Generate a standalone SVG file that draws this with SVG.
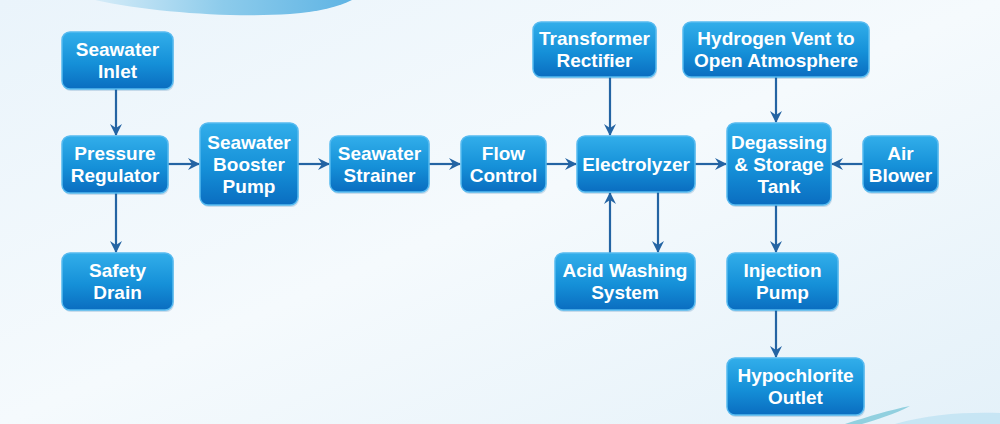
<svg xmlns="http://www.w3.org/2000/svg" width="1000" height="424" viewBox="0 0 1000 424">
<defs>
<linearGradient id="bg" x1="0" y1="0" x2="1" y2="1">
<stop offset="0" stop-color="#eaf4fb"/>
<stop offset="0.5" stop-color="#f5fafd"/>
<stop offset="1" stop-color="#e4f1f9"/>
</linearGradient>
<linearGradient id="nodeFill" x1="0" y1="0" x2="0" y2="1">
<stop offset="0" stop-color="#32aeea"/>
<stop offset="0.55" stop-color="#1590d8"/>
<stop offset="1" stop-color="#0a6dc0"/>
</linearGradient>
<linearGradient id="arc" x1="0" y1="0" x2="1" y2="0">
<stop offset="0" stop-color="#d6ecf8"/>
<stop offset="0.5" stop-color="#8ccbeb"/>
<stop offset="1" stop-color="#5fb4e4"/>
</linearGradient>
<marker id="ah" viewBox="0 0 12 12" refX="11" refY="6" markerWidth="12" markerHeight="12" markerUnits="userSpaceOnUse" orient="auto">
<path d="M0,0 L12,6 L0,12 L4,6 Z" fill="#2464a3"/>
</marker>
</defs>
<style>
.node rect.box{fill:url(#nodeFill);stroke:#56baf0;stroke-width:1.5}
.node rect.sh{fill:#0a5a9c;opacity:0.18}
.node text{font-family:"Liberation Sans",Arial,sans-serif;font-weight:700;font-size:19px;fill:#ffffff;text-anchor:middle}
#connectors path{fill:none;stroke:#2464a3;stroke-width:2.2;marker-end:url(#ah)}
</style>
<rect width="1000" height="424" fill="url(#bg)"/>
<path d="M95,0 C150,12 230,18 290,14 C320,12 340,6 352,0 Z" fill="url(#arc)"/>
<path d="M845,424 C870,416 890,410 910,406 C895,414 875,420 862,424 Z" fill="#7cc7d8" opacity="0.8"/>
<path d="M895,424 C930,414 965,412 1000,413 L1000,424 Z" fill="#bfe2f3" opacity="0.8"/>

<g id="connectors">
<path d="M116,89 L116,135"/>
<path d="M116,193 L116,252"/>
<path d="M168,164 L199,164"/>
<path d="M298,164 L329,164"/>
<path d="M429,164 L460,164"/>
<path d="M546,164 L576,164"/>
<path d="M695,164 L726,164"/>
<path d="M863,164 L832,164"/>
<path d="M610,77 L610,135"/>
<path d="M610,253 L610,193"/>
<path d="M658,192 L658,252"/>
<path d="M776,77 L776,122"/>
<path d="M776,205 L776,252"/>
<path d="M776,310 L776,357"/>
</g>

<g id="seawater-inlet" class="node"><rect class="sh" x="63" y="34" width="111" height="57" rx="8"/><rect class="box" x="62" y="32" width="111" height="57" rx="8"/><text x="117.5" y="56">Seawater</text><text x="117.5" y="78">Inlet</text></g>
<g id="pressure-regulator" class="node"><rect class="sh" x="63" y="138" width="106" height="57" rx="8"/><rect class="box" x="62" y="136" width="106" height="57" rx="8"/><text x="115" y="160">Pressure</text><text x="115" y="182">Regulator</text></g>
<g id="booster-pump" class="node"><rect class="sh" x="201" y="125" width="98" height="82" rx="8"/><rect class="box" x="200" y="123" width="98" height="82" rx="8"/><text x="249" y="149">Seawater</text><text x="249" y="171">Booster</text><text x="249" y="193">Pump</text></g>
<g id="seawater-strainer" class="node"><rect class="sh" x="331" y="138" width="99" height="56" rx="8"/><rect class="box" x="330" y="136" width="99" height="56" rx="8"/><text x="379.5" y="160">Seawater</text><text x="379.5" y="182">Strainer</text></g>
<g id="flow-control" class="node"><rect class="sh" x="462" y="138" width="85" height="56" rx="8"/><rect class="box" x="461" y="136" width="85" height="56" rx="8"/><text x="503.5" y="160">Flow</text><text x="503.5" y="182">Control</text></g>
<g id="electrolyzer" class="node"><rect class="sh" x="578" y="138" width="118" height="56" rx="8"/><rect class="box" x="577" y="136" width="118" height="56" rx="8"/><text x="636" y="171">Electrolyzer</text></g>
<g id="degassing-tank" class="node"><rect class="sh" x="728" y="125" width="104" height="82" rx="8"/><rect class="box" x="727" y="123" width="104" height="82" rx="8"/><text x="779" y="149">Degassing</text><text x="779" y="171">&amp; Storage</text><text x="779" y="193">Tank</text></g>
<g id="air-blower" class="node"><rect class="sh" x="864" y="138" width="75" height="56" rx="8"/><rect class="box" x="863" y="136" width="75" height="56" rx="8"/><text x="900.5" y="160">Air</text><text x="900.5" y="182">Blower</text></g>
<g id="acid-washing" class="node"><rect class="sh" x="556" y="255" width="140" height="57" rx="8"/><rect class="box" x="555" y="253" width="140" height="57" rx="8"/><text x="625" y="277">Acid Washing</text><text x="625" y="299">System</text></g>
<g id="injection-pump" class="node"><rect class="sh" x="728" y="255" width="111" height="57" rx="8"/><rect class="box" x="727" y="253" width="111" height="57" rx="8"/><text x="782.5" y="277">Injection</text><text x="782.5" y="299">Pump</text></g>
<g id="hypochlorite-outlet" class="node"><rect class="sh" x="728" y="360" width="137" height="57" rx="8"/><rect class="box" x="727" y="358" width="137" height="57" rx="8"/><text x="795.5" y="382">Hypochlorite</text><text x="795.5" y="404">Outlet</text></g>
<g id="safety-drain" class="node"><rect class="sh" x="63" y="255" width="111" height="57" rx="8"/><rect class="box" x="62" y="253" width="111" height="57" rx="8"/><text x="117.5" y="277">Safety</text><text x="117.5" y="299">Drain</text></g>
<g id="transformer-rectifier" class="node"><rect class="sh" x="534" y="24" width="123" height="55" rx="8"/><rect class="box" x="533" y="22" width="123" height="55" rx="8"/><text x="594.5" y="45">Transformer</text><text x="594.5" y="67">Rectifier</text></g>
<g id="hydrogen-vent" class="node"><rect class="sh" x="684" y="24" width="186" height="55" rx="8"/><rect class="box" x="683" y="22" width="186" height="55" rx="8"/><text x="776" y="45">Hydrogen Vent to</text><text x="776" y="67">Open Atmosphere</text></g>
</svg>
